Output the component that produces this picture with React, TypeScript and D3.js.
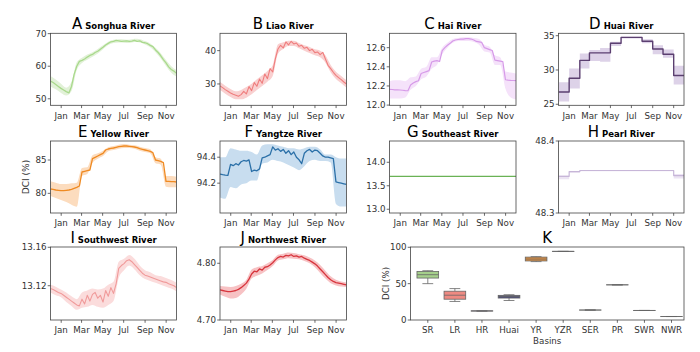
import React from 'react';
import * as d3 from 'd3';

// ---------- time axis ----------
const startDate = new Date(2014, 11, 1);
const endDate = new Date(2015, 11, 1);

// ---------- A Songhua (line: quarter-month steps, band: half-month steps) ----------
const songhuaLine = [55.4, 55.0, 54.4, 53.8, 53.2, 52.7, 52.2, 51.8, 53.8, 57.5, 60.0, 61.5, 61.8, 62.2, 62.8, 63.3, 63.6, 64.2, 64.6, 65.2, 65.8, 66.5, 67.0, 67.5, 67.6, 67.9, 67.8, 67.6, 67.7, 67.8, 67.6, 67.7, 67.9, 67.6, 67.8, 67.3, 67.2, 66.9, 66.4, 66.0, 65.0, 64.2, 63.2, 62.0, 61.0, 59.8, 59.0, 58.5, 57.8];
const songhuaLo = [53.8, 52.9, 51.8, 51.0, 52.4, 58.8, 61.0, 62.0, 62.9, 63.9, 65.2, 66.5, 67.1, 67.3, 67.2, 67.1, 67.4, 67.3, 66.7, 65.8, 64.3, 62.4, 60.1, 58.0, 56.8];
const songhuaHi = [57.0, 55.9, 54.6, 53.4, 55.2, 61.2, 62.6, 63.6, 64.3, 65.3, 66.4, 67.5, 68.1, 68.3, 68.2, 68.1, 68.4, 68.3, 67.7, 67.0, 65.7, 64.0, 61.9, 60.0, 58.8];

// ---------- B Liao ----------
const liaoLine = [29.4, 28.9, 28.3, 27.8, 27.3, 26.9, 26.6, 26.3, 26.8, 27.8, 27.0, 29.2, 28.0, 30.4, 29.3, 31.5, 30.2, 33.0, 31.6, 34.6, 33.6, 37.5, 40.5, 41.6, 40.8, 42.6, 41.7, 42.8, 42.0, 42.3, 41.3, 41.6, 40.7, 41.0, 40.0, 40.4, 39.4, 39.6, 38.8, 39.5, 37.5, 35.6, 34.6, 33.5, 32.6, 31.9, 31.3, 30.6, 30.0];
const liaoLo = [28.2, 27.1, 26.1, 25.4, 25.4, 25.9, 26.9, 28.2, 29.4, 30.7, 32.4, 39.1, 40.5, 41.4, 41.4, 40.7, 40.0, 39.3, 38.6, 38.0, 36.4, 33.5, 31.5, 30.2, 28.9];
const liaoHi = [30.6, 29.5, 28.5, 27.8, 28.2, 29.1, 30.1, 31.4, 32.6, 33.9, 35.6, 41.9, 42.5, 43.0, 43.0, 42.3, 41.6, 41.1, 40.4, 40.0, 38.6, 35.7, 33.7, 32.4, 31.1];

// ---------- C Hai ----------
const haiLine = [12.165, 12.163, 12.16, 12.16, 12.158, 12.155, 12.152, 12.15, 12.21, 12.23, 12.245, 12.255, 12.33, 12.34, 12.35, 12.36, 12.45, 12.46, 12.465, 12.455, 12.57, 12.6, 12.625, 12.645, 12.67, 12.68, 12.685, 12.69, 12.69, 12.695, 12.695, 12.69, 12.68, 12.665, 12.66, 12.655, 12.6, 12.59, 12.58, 12.57, 12.47, 12.465, 12.46, 12.455, 12.265, 12.26, 12.258, 12.257, 12.256];
const haiLo = [12.07, 12.07, 12.07, 12.08, 12.16, 12.2, 12.27, 12.3, 12.38, 12.42, 12.53, 12.6, 12.65, 12.67, 12.67, 12.67, 12.66, 12.63, 12.56, 12.55, 12.42, 12.42, 12.17, 12.08, 12.06];
const haiHi = [12.25, 12.26, 12.26, 12.25, 12.29, 12.3, 12.38, 12.4, 12.5, 12.5, 12.6, 12.65, 12.69, 12.7, 12.71, 12.71, 12.7, 12.69, 12.63, 12.61, 12.52, 12.5, 12.35, 12.34, 12.33];

// ---------- D Huai (monthly, Dec..Nov) ----------
const huaiLine = [26.8, 28.8, 31.4, 32.5, 32.5, 33.9, 34.75, 34.75, 34.2, 33.05, 32.3, 29.2];
const huaiLo = [25.4, 27.3, 30.2, 31.3, 31.2, 33.5, 34.6, 34.6, 33.9, 32.3, 31.8, 27.9];
const huaiHi = [28.2, 30.2, 32.4, 32.9, 33.2, 34.1, 34.85, 34.85, 34.5, 33.6, 33.0, 30.6];

// ---------- E Yellow ----------
const yellowLine = [80.65, 80.6, 80.5, 80.45, 80.4, 80.4, 80.45, 80.5, 80.6, 80.75, 80.9, 81.1, 83.2, 83.3, 83.4, 83.5, 85.2, 85.4, 85.6, 85.8, 86.0, 86.5, 86.65, 86.75, 86.8, 86.9, 87.0, 87.05, 87.1, 87.1, 87.05, 87.0, 86.95, 86.85, 86.7, 86.6, 86.5, 86.4, 86.3, 86.1, 85.0, 84.9, 84.8, 84.6, 81.8, 81.8, 81.75, 81.75, 81.7];
const yellowLo = [79.6, 79.3, 79.0, 78.7, 78.3, 78.0, 82.6, 82.9, 84.6, 85.2, 85.6, 86.3, 86.5, 86.7, 86.8, 86.8, 86.7, 86.4, 86.2, 86.0, 84.5, 84.3, 81.0, 80.9, 80.9];
const yellowHi = [81.8, 81.6, 81.4, 81.4, 81.5, 81.6, 83.8, 83.9, 85.7, 86.0, 86.4, 86.9, 87.1, 87.3, 87.4, 87.3, 87.2, 87.0, 86.8, 86.6, 85.4, 85.2, 82.6, 82.6, 82.5];

// ---------- F Yangtze ----------
const yangtzeLine = [94.27, 94.265, 94.262, 94.26, 94.345, 94.335, 94.35, 94.34, 94.365, 94.375, 94.37, 94.38, 94.29, 94.3, 94.295, 94.31, 94.395, 94.4, 94.41, 94.42, 94.48, 94.455, 94.465, 94.445, 94.46, 94.43, 94.45, 94.42, 94.44, 94.4, 94.38, 94.35, 94.43, 94.45, 94.46, 94.44, 94.455, 94.45, 94.43, 94.41, 94.4, 94.4, 94.395, 94.39, 94.21, 94.205, 94.2, 94.195, 94.19];
const yangtzeLo = [94.09, 94.08, 94.17, 94.16, 94.19, 94.2, 94.22, 94.22, 94.35, 94.36, 94.38, 94.37, 94.36, 94.34, 94.32, 94.3, 94.33, 94.37, 94.38, 94.37, 94.37, 94.36, 94.04, 94.02, 94.02];
const yangtzeHi = [94.4, 94.4, 94.47, 94.46, 94.45, 94.45, 94.44, 94.42, 94.49, 94.5, 94.5, 94.49, 94.48, 94.47, 94.47, 94.46, 94.47, 94.48, 94.48, 94.46, 94.42, 94.42, 94.4, 94.39, 94.39];

// ---------- G Southeast (monthly) ----------
const southeastLine = [13.7, 13.7, 13.7, 13.7, 13.7, 13.7, 13.7, 13.7, 13.7, 13.7, 13.7, 13.7];
const southeastLo = [13.7, 13.7, 13.7, 13.7, 13.7, 13.7, 13.7, 13.7, 13.7, 13.7, 13.7, 13.7];
const southeastHi = [13.7, 13.7, 13.7, 13.7, 13.7, 13.7, 13.7, 13.7, 13.7, 13.7, 13.7, 13.7];

// ---------- H Pearl (monthly) ----------
const pearlLine = [48.351, 48.3575, 48.359, 48.359, 48.359, 48.359, 48.359, 48.359, 48.359, 48.359, 48.359, 48.352];
const pearlLo = [48.347, 48.356, 48.358, 48.358, 48.358, 48.358, 48.358, 48.358, 48.358, 48.358, 48.358, 48.348];
const pearlHi = [48.352, 48.358, 48.3595, 48.3595, 48.3595, 48.3595, 48.3595, 48.3595, 48.3595, 48.3595, 48.3595, 48.354];

// ---------- I Southwest ----------
const southwestLine = [13.117, 13.116, 13.1145, 13.113, 13.112, 13.11, 13.108, 13.106, 13.104, 13.102, 13.1, 13.099, 13.106, 13.101, 13.11, 13.104, 13.111, 13.113, 13.107, 13.11, 13.103, 13.115, 13.109, 13.118, 13.112, 13.122, 13.138, 13.141, 13.143, 13.146, 13.147, 13.145, 13.142, 13.139, 13.136, 13.133, 13.131, 13.13, 13.129, 13.128, 13.127, 13.126, 13.125, 13.124, 13.1235, 13.122, 13.121, 13.12, 13.118];
const southwestLo = [13.113, 13.11, 13.108, 13.103, 13.099, 13.095, 13.097, 13.098, 13.1, 13.098, 13.097, 13.1, 13.104, 13.128, 13.136, 13.141, 13.137, 13.131, 13.127, 13.125, 13.123, 13.121, 13.119, 13.117, 13.114];
const southwestHi = [13.121, 13.119, 13.116, 13.113, 13.109, 13.106, 13.113, 13.115, 13.117, 13.116, 13.117, 13.121, 13.124, 13.145, 13.148, 13.152, 13.148, 13.141, 13.136, 13.134, 13.131, 13.13, 13.128, 13.126, 13.123];

// ---------- J Northwest ----------
const northwestLine = [4.753, 4.752, 4.751, 4.75, 4.75, 4.751, 4.752, 4.754, 4.757, 4.761, 4.765, 4.772, 4.781, 4.786, 4.785, 4.79, 4.788, 4.793, 4.794, 4.797, 4.801, 4.806, 4.81, 4.812, 4.811, 4.814, 4.813, 4.815, 4.812, 4.813, 4.811, 4.812, 4.809, 4.807, 4.805, 4.802, 4.799, 4.795, 4.79, 4.785, 4.78, 4.775, 4.771, 4.768, 4.766, 4.765, 4.764, 4.763, 4.762];
const northwestLo = [4.745, 4.741, 4.738, 4.739, 4.745, 4.755, 4.773, 4.778, 4.782, 4.788, 4.795, 4.805, 4.807, 4.809, 4.808, 4.807, 4.804, 4.8, 4.793, 4.783, 4.773, 4.765, 4.761, 4.759, 4.758];
const northwestHi = [4.76, 4.759, 4.758, 4.76, 4.764, 4.771, 4.789, 4.793, 4.795, 4.8, 4.806, 4.815, 4.817, 4.819, 4.818, 4.816, 4.814, 4.81, 4.805, 4.797, 4.787, 4.777, 4.771, 4.768, 4.766];

// ---------- y ticks ----------
const songhuaTicks = [50, 60, 70];
const liaoTicks = [30, 40];
const haiTicks = [12.0, 12.2, 12.4, 12.6];
const huaiTicks = [25, 30, 35];
const yellowTicks = [80, 85];
const yangtzeTicks = [94.2, 94.4];
const southeastTicks = [13.0, 13.5, 14.0];
const pearlTicks = [48.3, 48.4];
const southwestTicks = [13.12, 13.16];
const northwestTicks = [4.7, 4.8];

// ---------- K box plot ----------
const basinLabels = ['SR', 'LR', 'HR', 'Huai', 'YR', 'YZR', 'SER', 'PR', 'SWR', 'NWR'];
const boxMin = [50.0, 25.5, 12.15, 26.8, 80.3, 94.2, 13.7, 48.35, 13.1, 4.75];
const boxQ1 = [57.7, 28.6, 12.26, 30.2, 81.2, 94.3, 13.7, 48.36, 13.11, 4.76];
const boxMed = [62.3, 34.1, 12.46, 32.4, 83.8, 94.4, 13.7, 48.36, 13.12, 4.79];
const boxQ3 = [66.8, 39.6, 12.66, 33.9, 86.5, 94.45, 13.7, 48.36, 13.13, 4.81];
const boxMax = [67.8, 43.2, 12.7, 34.75, 87.1, 94.48, 13.7, 48.36, 13.15, 4.815];
const boxTicks = [0, 50, 100];

const FONT = 'DejaVu Sans, Verdana, sans-serif';
const TICK_COLOR = '#333';
const FRAME = '#444';

type PanelDef = {
  letter: string; name: string; line: number[]; lo: number[]; hi: number[];
  yDomain: [number, number]; ticks: number[]; fmt: string; color: string; band: string;
  step: boolean; lw: number;
};

const panels: PanelDef[] = [
  { letter: 'A', name: 'Songhua River', line: songhuaLine, lo: songhuaLo, hi: songhuaHi, yDomain: [48.0, 70.1], ticks: songhuaTicks, fmt: 'd', color: '#a9d98c', band: '#e2f1d8', step: false, lw: 1.3 },
  { letter: 'B', name: 'Liao River', line: liaoLine, lo: liaoLo, hi: liaoHi, yDomain: [23.6, 45.2], ticks: liaoTicks, fmt: 'd', color: '#ef7d7d', band: '#f9d0d0', step: false, lw: 1.1 },
  { letter: 'C', name: 'Hai River', line: haiLine, lo: haiLo, hi: haiHi, yDomain: [11.998, 12.75], ticks: haiTicks, fmt: '.1f', color: '#d69ae8', band: '#f5e2fa', step: false, lw: 1.2 },
  { letter: 'D', name: 'Huai River', line: huaiLine, lo: huaiLo, hi: huaiHi, yDomain: [24.85, 35.35], ticks: huaiTicks, fmt: 'd', color: '#5b3f70', band: '#ddd2e8', step: true, lw: 1.4 },
  { letter: 'E', name: 'Yellow River', line: yellowLine, lo: yellowLo, hi: yellowHi, yDomain: [77.05, 87.85], ticks: yellowTicks, fmt: 'd', color: '#ef8a22', band: '#fcdcbe', step: false, lw: 1.3 },
  { letter: 'F', name: 'Yangtze River', line: yangtzeLine, lo: yangtzeLo, hi: yangtzeHi, yDomain: [93.97, 94.525], ticks: yangtzeTicks, fmt: '.1f', color: '#2b70a8', band: '#c8ddef', step: false, lw: 1.3 },
  { letter: 'G', name: 'Southeast River', line: southeastLine, lo: southeastLo, hi: southeastHi, yDomain: [12.92, 14.453], ticks: southeastTicks, fmt: '.1f', color: '#6ab255', band: '#d6ecce', step: true, lw: 1.3 },
  { letter: 'H', name: 'Pearl River', line: pearlLine, lo: pearlLo, hi: pearlHi, yDomain: [48.3, 48.4], ticks: pearlTicks, fmt: '.1f', color: '#c7b6d8', band: '#ece4f3', step: true, lw: 1.2 },
  { letter: 'I', name: 'Southwest River', line: southwestLine, lo: southwestLo, hi: southwestHi, yDomain: [13.0843, 13.1603], ticks: southwestTicks, fmt: '.2f', color: '#f09a9a', band: '#fbdcdc', step: false, lw: 1.1 },
  { letter: 'J', name: 'Northwest River', line: northwestLine, lo: northwestLo, hi: northwestHi, yDomain: [4.7, 4.8287], ticks: northwestTicks, fmt: '.2f', color: '#d7353d', band: '#f7c2c4', step: false, lw: 1.3 },
];

const COLS: [number, number][] = [[50.5, 176.5], [220, 346.5], [389.5, 516], [558.5, 684]];
const ROWS: [number, number][] = [[33.3, 105.3], [141, 213], [247, 320]];

const boxFills = ['#a5cf8b', '#ee8a82', '#cfa3e0', '#4c4b7c', '#e8913a', '#2b70a8', '#6ab255', '#c7b6d8', '#f09a9a', '#d7353d'];

function Title({ cx, y, letter, name }: { cx: number; y: number; letter: string; name: string }) {
  return (
    <text x={cx} y={y} textAnchor="middle" fontFamily={FONT} fill="#000">
      <tspan fontSize={15}>{letter}</tspan>
      <tspan fontSize={8.5} fontWeight="bold" dx={3}>{name}</tspan>
    </text>
  );
}

function SeriesPanel({ p, idx }: { p: PanelDef; idx: number }) {
  const [x0, x1] = COLS[idx % 4];
  const [y0, y1] = ROWS[Math.floor(idx / 4)];
  const x = d3.scaleTime().domain([startDate, endDate]).range([x0, x1]);
  const y = d3.scaleLinear().domain(p.yDomain).range([y1, y0]);
  const span = endDate.getTime() - startDate.getTime();
  const posUniform = (n: number) => (i: number) => x(new Date(startDate.getTime() + (span * i) / (n - 1)));
  const posMonth = (i: number) => x(i >= 12 ? endDate : d3.timeMonth.offset(startDate, i));

  let linePts: [number, number][];
  let bandPts: [number, number, number][];
  let curve: d3.CurveFactory;
  if (p.step) {
    linePts = p.line.map((v, i) => [posMonth(i), y(v)] as [number, number]);
    linePts.push([posMonth(12), y(p.line[p.line.length - 1])]);
    bandPts = p.lo.map((v, i) => [posMonth(i), y(v), y(p.hi[i])] as [number, number, number]);
    bandPts.push([posMonth(12), y(p.lo[p.lo.length - 1]), y(p.hi[p.hi.length - 1])]);
    curve = d3.curveStepAfter;
  } else {
    const pl = posUniform(p.line.length);
    const pb = posUniform(p.lo.length);
    linePts = p.line.map((v, i) => [pl(i), y(v)] as [number, number]);
    bandPts = p.lo.map((v, i) => [pb(i), y(v), y(p.hi[i])] as [number, number, number]);
    curve = d3.curveLinear;
  }
  const lineGen = d3.line<[number, number]>().x(d => d[0]).y(d => d[1]).curve(curve);
  const areaGen = d3.area<[number, number, number]>().x(d => d[0]).y0(d => d[1]).y1(d => d[2]).curve(p.step ? d3.curveStepAfter : d3.curveMonotoneX);
  const xticks = x.ticks(d3.timeMonth.filter(d => d.getMonth() % 2 === 0));
  const fmt = d3.format(p.fmt);
  const clipId = `clip-${p.letter}`;
  return (
    <g>
      <defs>
        <clipPath id={clipId}><rect x={x0} y={y0} width={x1 - x0} height={y1 - y0} /></clipPath>
      </defs>
      <g clipPath={`url(#${clipId})`}>
        <path d={areaGen(bandPts) || ''} fill={p.band} stroke="none" />
        <path d={lineGen(linePts) || ''} fill="none" stroke={p.color} strokeWidth={p.lw} strokeLinejoin="round" />
      </g>
      <rect x={x0} y={y0} width={x1 - x0} height={y1 - y0} fill="none" stroke={FRAME} strokeWidth={0.8} />
      {xticks.map((t, i) => (
        <g key={i}>
          <line x1={x(t)} x2={x(t)} y1={y1} y2={y1 + 2.8} stroke={FRAME} strokeWidth={0.8} />
          <text x={x(t)} y={y1 + 13.2} textAnchor="middle" fontFamily={FONT} fontSize={8.7} fill={TICK_COLOR}>{d3.timeFormat('%b')(t)}</text>
        </g>
      ))}
      {p.ticks.map((t, i) => (
        <g key={i}>
          <line x1={x0 - 2.8} x2={x0} y1={y(t)} y2={y(t)} stroke={FRAME} strokeWidth={0.8} />
          <text x={x0 - 4} y={y(t)} dy="0.35em" textAnchor="end" fontFamily={FONT} fontSize={8.7} fill={TICK_COLOR}>{fmt(t)}</text>
        </g>
      ))}
      <Title cx={(x0 + x1) / 2} y={y0 - 4.5} letter={p.letter} name={p.name} />
    </g>
  );
}

function BoxPanel() {
  const x0 = 410.5, x1 = 684;
  const [y0, y1] = ROWS[2];
  const x = d3.scalePoint<string>().domain(basinLabels).range([427.8, 671.5]);
  const y = d3.scaleLinear().domain([0, 100.4]).range([y1, y0]);
  const bw = x.step() * 0.8;
  const edge = '#666';
  return (
    <g>
      <rect x={x0} y={y0} width={x1 - x0} height={y1 - y0} fill="none" stroke={FRAME} strokeWidth={0.8} />
      {basinLabels.map((b, i) => {
        const cx = x(b) as number;
        const top = y(boxQ3[i]);
        const bot = y(boxQ1[i]);
        return (
          <g key={b}>
            <line x1={cx} x2={cx} y1={y(boxMax[i])} y2={top} stroke={edge} strokeWidth={0.8} />
            <line x1={cx} x2={cx} y1={bot} y2={y(boxMin[i])} stroke={edge} strokeWidth={0.8} />
            <line x1={cx - bw / 4} x2={cx + bw / 4} y1={y(boxMax[i])} y2={y(boxMax[i])} stroke={edge} strokeWidth={0.8} />
            <line x1={cx - bw / 4} x2={cx + bw / 4} y1={y(boxMin[i])} y2={y(boxMin[i])} stroke={edge} strokeWidth={0.8} />
            <rect x={cx - bw / 2} y={top} width={bw} height={Math.max(bot - top, 0.01)} fill={boxFills[i]} stroke={edge} strokeWidth={0.8} />
            <line x1={cx - bw / 2} x2={cx + bw / 2} y1={y(boxMed[i])} y2={y(boxMed[i])} stroke={edge} strokeWidth={0.8} />
            <line x1={cx} x2={cx} y1={y1} y2={y1 + 2.8} stroke={FRAME} strokeWidth={0.8} />
            <text x={cx} y={y1 + 13.2} textAnchor="middle" fontFamily={FONT} fontSize={8.7} fill={TICK_COLOR}>{b}</text>
          </g>
        );
      })}
      {boxTicks.map((t, i) => (
        <g key={i}>
          <line x1={x0 - 2.8} x2={x0} y1={y(t)} y2={y(t)} stroke={FRAME} strokeWidth={0.8} />
          <text x={x0 - 4} y={y(t)} dy="0.35em" textAnchor="end" fontFamily={FONT} fontSize={8.7} fill={TICK_COLOR}>{t}</text>
        </g>
      ))}
      <text x={(x0 + x1) / 2} y={343.5} textAnchor="middle" fontFamily={FONT} fontSize={8.7} fill={TICK_COLOR}>Basins</text>
      <text transform={`translate(389,${(y0 + y1) / 2}) rotate(-90)`} textAnchor="middle" fontFamily={FONT} fontSize={8.7} fill={TICK_COLOR}>DCI (%)</text>
      <text x={(x0 + x1) / 2} y={y0 - 4.5} textAnchor="middle" fontFamily={FONT} fontSize={15} fill="#000">K</text>
    </g>
  );
}

export default function App() {
  return (
    <svg width={700} height={352} viewBox="0 0 700 352" style={{ position: 'absolute', left: 0, top: 0, background: '#fff' }}>
      <rect x={0} y={0} width={700} height={352} fill="#fff" />
      {panels.map((p, i) => <SeriesPanel key={p.letter} p={p} idx={i} />)}
      <text transform={`translate(29,${(ROWS[1][0] + ROWS[1][1]) / 2}) rotate(-90)`} textAnchor="middle" fontFamily={FONT} fontSize={9} fill={TICK_COLOR}>DCI (%)</text>
      <BoxPanel />
    </svg>
  );
}
